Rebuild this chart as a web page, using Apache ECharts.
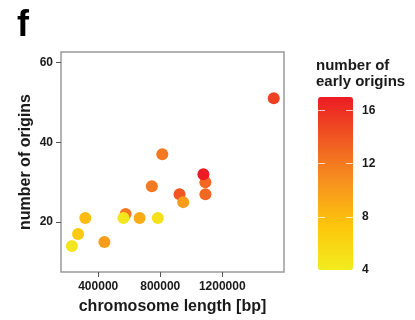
<!DOCTYPE html>
<html>
<head>
<meta charset="utf-8">
<script src="https://cdn.jsdelivr.net/npm/echarts@6/dist/echarts.min.js"></script>
<style>
  html, body { margin: 0; padding: 0; background: #fff; }
  #chart { width: 415px; height: 320px; }
</style>
</head>
<body>
<div id="chart"></div>
<script>
// yeast chromosomes I..XVI
const chromosomes = ['I', 'II', 'III', 'IV', 'V', 'VI', 'VII', 'VIII', 'IX', 'X', 'XI', 'XII', 'XIII', 'XIV', 'XV', 'XVI'];
const chromLength = [230218, 813184, 316620, 1531933, 576874, 270161, 1090940, 562643, 439888, 745751, 666816, 1078177, 924431, 784333, 1091291, 948066];
const originCount = [14, 37, 21, 51, 22, 17, 30, 21, 15, 29, 21, 32, 27, 21, 27, 25];
const earlyOrigins = [4.5, 12, 8, 15, 12, 7, 13, 4.5, 10, 12, 9, 17, 14, 5, 13, 10];

const xTicks = [400000, 800000, 1200000];
const yTicks = [20, 40, 60];
const scaleColors = ['#f2ec1f', '#fdc70c', '#f7941e', '#f05a22', '#ec1c24'];

const font = '"Liberation Sans", Arial, Helvetica, sans-serif';
const ink = '#1a1a1a';

const points = chromosomes.map((name, i) => ({
  name,
  value: [chromLength[i], originCount[i], earlyOrigins[i]],
}));

const chart = echarts.init(document.getElementById('chart'), null, { renderer: 'canvas' });

chart.setOption({
  animation: false,
  backgroundColor: '#fff',
  textStyle: { fontFamily: font },
  title: [
    {
      text: 'f', left: 12, top: 3,
      textStyle: { fontFamily: font, fontSize: 36, fontWeight: 'bold', color: '#000' },
    },
    {
      text: 'number of\nearly origins', left: 316, top: 58, padding: 0,
      textStyle: { fontFamily: font, fontSize: 15, fontWeight: 'bold', color: ink, lineHeight: 16 },
    },
  ],
  grid: [
    {
      left: 61, top: 52, width: 223, height: 222,
      show: true, borderColor: '#9a9a9a', borderWidth: 1.5, backgroundColor: 'transparent',
    },
    { left: 318, top: 97, width: 35, height: 173, show: false },
  ],
  xAxis: [
    {
      type: 'value', gridIndex: 0, min: 160000, max: 1598000,
      name: 'chromosome length [bp]', nameLocation: 'middle', nameGap: 27, nameMoveOverlap: false,
      nameTextStyle: { fontFamily: font, fontSize: 16, fontWeight: 'bold', color: ink },
      axisLine: { show: false },
      axisTick: { show: true, length: 5, lineStyle: { color: '#555' }, customValues: xTicks },
      axisLabel: {
        fontFamily: font, fontSize: 12, fontWeight: 'bold', color: ink, margin: 9,
        customValues: xTicks, formatter: (v) => String(v),
      },
      splitLine: { show: false },
    },
    {
      type: 'value', gridIndex: 1, show: false,
    },
  ],
  yAxis: [
    {
      type: 'value', gridIndex: 0, min: 7.5, max: 62.6,
      name: 'number of origins', nameLocation: 'middle', nameGap: 27, nameMoveOverlap: false,
      nameTextStyle: { fontFamily: font, fontSize: 16, fontWeight: 'bold', color: ink },
      axisLine: { show: false },
      axisTick: { show: true, length: 5, lineStyle: { color: '#555' }, customValues: yTicks },
      axisLabel: { fontFamily: font, fontSize: 12, fontWeight: 'bold', color: ink, margin: 8, customValues: yTicks },
      splitLine: { show: false },
    },
    {
      // axis that labels the colour bar
      type: 'value', gridIndex: 1, position: 'right', min: 4, max: 17, interval: 4, z: 10,
      axisLine: { show: false },
      axisTick: { show: false },
      axisLabel: { fontFamily: font, fontSize: 12, fontWeight: 'bold', color: ink, margin: 9, showMaxLabel: false },
      splitLine: {
        show: true, showMinLine: false, showMaxLine: false,
        lineStyle: { color: 'rgba(255,255,255,0.75)', width: 1, type: [7, 21, 7] },
      },
    },
  ],
  visualMap: {
    type: 'continuous', seriesIndex: 0, dimension: 2,
    min: 4, max: 17, calculable: false, hoverLink: false,
    left: 318, top: 97, padding: 0,
    itemWidth: 35, itemHeight: 173,
    text: null, showLabel: false,
    inRange: { color: scaleColors },
  },
  series: [
    {
      type: 'scatter', xAxisIndex: 0, yAxisIndex: 0,
      symbolSize: 12,
      itemStyle: { opacity: 1 },
      data: points,
    },
  ],
});
</script>
</body>
</html>
